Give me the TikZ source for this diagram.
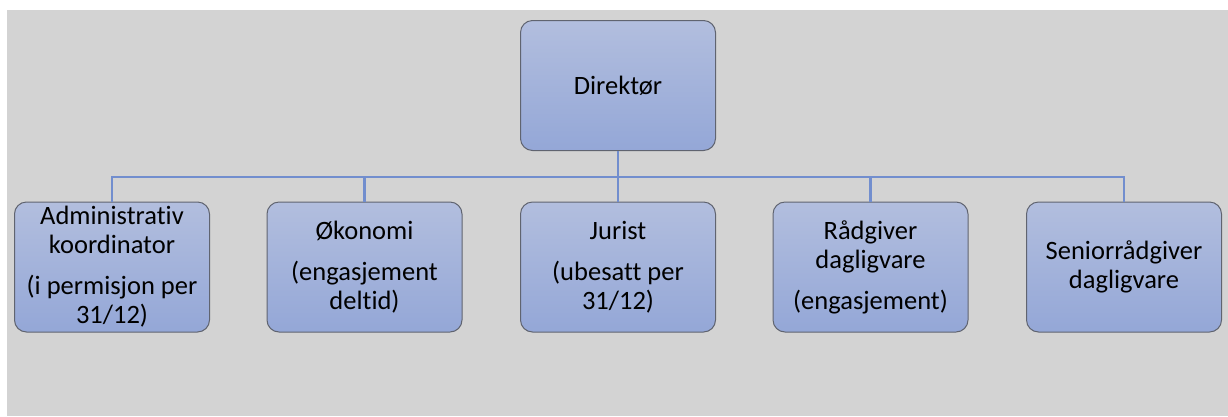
\documentclass[tikz,border=0pt]{standalone}
\usepackage{fontspec}
\setmainfont{Carlito}[Ligatures={NoCommon}]
\definecolor{bg}{RGB}{211,211,211}
\definecolor{boxtop}{RGB}{178,190,222}
\definecolor{boxbot}{RGB}{148,167,215}
\definecolor{boxline}{RGB}{96,100,112}
\definecolor{conncol}{RGB}{114,142,206}
\tikzset{
  orgbox/.style={draw=boxline, line width=1pt, rounded corners=12pt,
    top color=boxtop, bottom color=boxbot, minimum width=195pt, minimum height=130pt,
    inner sep=0pt, align=center, text=black,
    font=\fontsize{26.5}{29}\selectfont},
  conn/.style={draw=conncol, line width=2.2pt}
}
\begin{document}
\begin{tikzpicture}[x=1pt,y=-1pt]
\useasboundingbox (0,0) rectangle (1228,416);
\fill[bg] (7,10) rectangle (1228,416);
\coordinate (bus) at (618,177);
\node[orgbox] (dir) at (618,85.5) {Direktør};
\node[orgbox] (b1) at (112,267) {Administrativ\\koordinator\\[12pt](i permisjon per\\31/12)};
\node[orgbox] (b2) at (364.5,267) {Økonomi\\[12pt](engasjement\\deltid)};
\node[orgbox] (b3) at (618,267) {Jurist\\[12pt](ubesatt per\\31/12)};
\node[orgbox] (b4) at (870.5,267) {Rådgiver\\dagligvare\\[12pt](engasjement)};
\node[orgbox] (b5) at (1124,267) {Seniorrådgiver\\dagligvare};
\draw[conn] (dir.south) -- (bus);
\foreach \b in {b1,b2,b3,b4,b5}{
  \draw[conn] (bus) -| (\b.north);
}
\end{tikzpicture}
\end{document}
